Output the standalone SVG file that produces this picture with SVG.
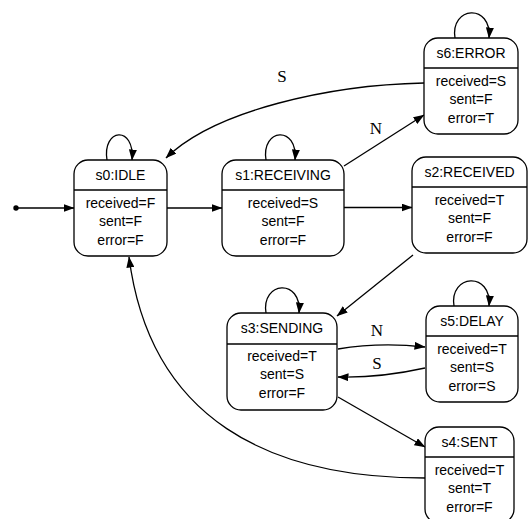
<svg xmlns="http://www.w3.org/2000/svg" width="529" height="519" viewBox="0 0 529 519">
<defs>
<style>
.box{fill:#fff;stroke:#000;stroke-width:1.3}
.div{stroke:#000;stroke-width:1.3}
.t{font-family:"Liberation Sans",Arial,sans-serif;font-size:14px;text-anchor:middle;fill:#000}
.lbl{font-family:"Liberation Serif","Times New Roman",serif;font-size:17px;text-anchor:middle;fill:#000}
.e{fill:none;stroke:#000;stroke-width:1.3;marker-end:url(#ah)}
</style>
<marker id="ah" markerUnits="userSpaceOnUse" markerWidth="11" markerHeight="8" refX="10.5" refY="4" orient="auto">
<path d="M0,0 L11,4 L0,8 z" fill="#000"/>
</marker>
</defs>
<rect width="529" height="519" fill="#fff"/>
<g id="connectors">
<circle cx="16" cy="208" r="2.7" fill="#000"/>
<path class="e" d="M16,208 L74,208"/>
<path class="e" d="M167,208 L222,208"/>
<path class="e" d="M344,207.5 L412,207.5"/>
<path class="e" d="M344,166 L424,115"/>
<path class="e" d="M424,83 C330,85 215,110 166,158"/>
<path class="e" d="M413,255 L337,316"/>
<path class="e" d="M338,349 Q380,342 425,347"/>
<path class="e" d="M425,368 Q380,378 338,377"/>
<path class="e" d="M338,397 L425,447"/>
<path class="e" d="M425,478 C270,478 150,420 129,257"/>
<path class="e" d="M107,160 C102,128 135,125 132,160"/>
<path class="e" d="M266,160 C261,128 298,125 295,160"/>
<path class="e" d="M455,38 C450,6 492,3 489,38"/>
<path class="e" d="M266,313 C261,281 302,278 299,313"/>
<path class="e" d="M454,306 C449,274 492,271 489,306"/>
<text class="lbl" x="282" y="82">S</text>
<text class="lbl" x="376" y="134">N</text>
<text class="lbl" x="377" y="336">N</text>
<text class="lbl" x="377" y="369">S</text>
</g>
<g id="s0">
<rect class="box" x="74" y="160" width="93" height="96" rx="14"/>
<line class="div" x1="74" y1="190" x2="167" y2="190"/>
<text class="t" x="120.5" y="180">s0:IDLE</text>
<text class="t" x="120.5" y="208">received=F</text>
<text class="t" x="120.5" y="226">sent=F</text>
<text class="t" x="120.5" y="245">error=F</text>
</g>
<g id="s1">
<rect class="box" x="222" y="160" width="122" height="96" rx="14"/>
<line class="div" x1="222" y1="190" x2="344" y2="190"/>
<text class="t" x="283" y="180">s1:RECEIVING</text>
<text class="t" x="283" y="208">received=S</text>
<text class="t" x="283" y="226">sent=F</text>
<text class="t" x="283" y="245">error=F</text>
</g>
<g id="s2">
<rect class="box" x="412" y="157" width="115" height="96" rx="14"/>
<line class="div" x1="412" y1="187" x2="527" y2="187"/>
<text class="t" x="469.5" y="177">s2:RECEIVED</text>
<text class="t" x="469.5" y="205">received=T</text>
<text class="t" x="469.5" y="223">sent=F</text>
<text class="t" x="469.5" y="242">error=F</text>
</g>
<g id="s6">
<rect class="box" x="424" y="38" width="94" height="96" rx="14"/>
<line class="div" x1="424" y1="68" x2="518" y2="68"/>
<text class="t" x="471" y="58">s6:ERROR</text>
<text class="t" x="471" y="86">received=S</text>
<text class="t" x="471" y="104">sent=F</text>
<text class="t" x="471" y="123">error=T</text>
</g>
<g id="s3">
<rect class="box" x="227" y="313" width="110" height="97" rx="14"/>
<line class="div" x1="227" y1="344" x2="337" y2="344"/>
<text class="t" x="282" y="333">s3:SENDING</text>
<text class="t" x="282" y="361">received=T</text>
<text class="t" x="282" y="379">sent=S</text>
<text class="t" x="282" y="398">error=F</text>
</g>
<g id="s5">
<rect class="box" x="426" y="306" width="92" height="96" rx="14"/>
<line class="div" x1="426" y1="336" x2="518" y2="336"/>
<text class="t" x="472" y="326">s5:DELAY</text>
<text class="t" x="472" y="354">received=T</text>
<text class="t" x="472" y="372">sent=S</text>
<text class="t" x="472" y="391">error=S</text>
</g>
<g id="s4">
<rect class="box" x="425" y="427" width="89" height="96" rx="14"/>
<line class="div" x1="425" y1="457" x2="514" y2="457"/>
<text class="t" x="469.5" y="447">s4:SENT</text>
<text class="t" x="469.5" y="475">received=T</text>
<text class="t" x="469.5" y="493">sent=T</text>
<text class="t" x="469.5" y="512">error=F</text>
</g>
</svg>
